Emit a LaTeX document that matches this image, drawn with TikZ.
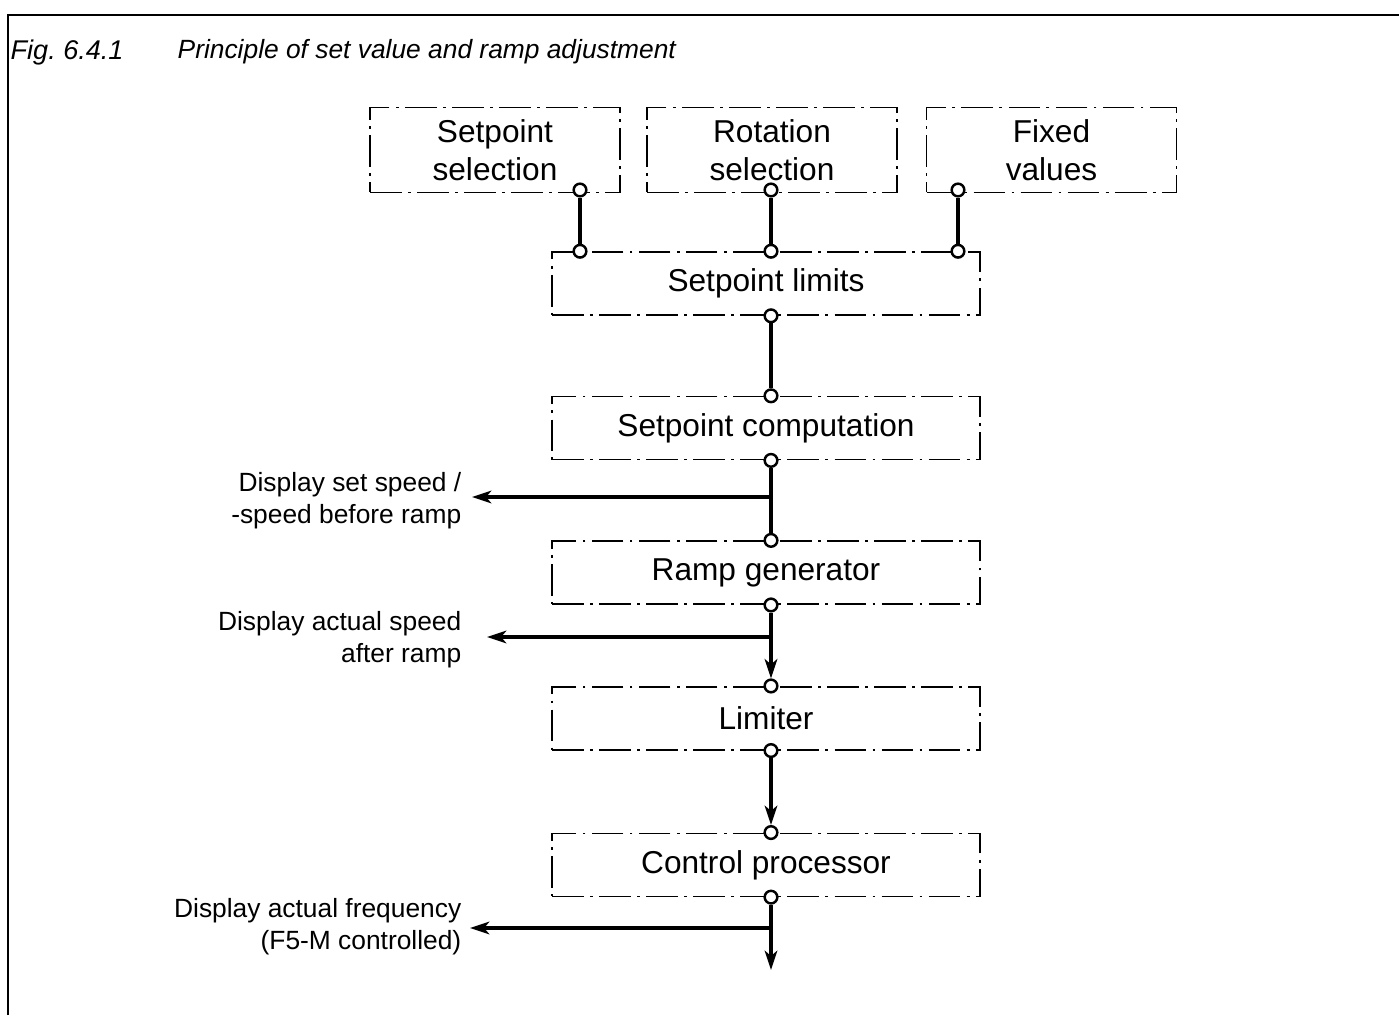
\documentclass[tikz,border=0pt]{standalone}
\usepackage{fontspec}
\setmainfont{Liberation Sans}
\usetikzlibrary{arrows.meta,positioning}

\begin{document}
\begin{tikzpicture}[
      every node/.style={align=center,font=\fontsize{9}{10.8}\selectfont},
      blk/.style={draw,line width=0.45pt,
                  dash pattern=on 9pt off 1.8pt on 0.8pt off 1.8pt,
                  minimum width=4.28cm,minimum height=0.63cm},
      srcblk/.style={blk,minimum width=2.5cm,minimum height=0.8cm},
      pin/.style={circle,draw,fill=white,line width=0.7pt,
                  inner sep=0pt,minimum size=3.6pt},
      wire/.style={line width=0.9pt},
      arr/.style={wire,-{Stealth[length=5.5pt,width=3.6pt,inset=1.5pt]}},
      lbl/.style={font=\fontsize{7.5}{9.1}\selectfont,align=right,
                  anchor=east,inner sep=0pt}
    ]
      \useasboundingbox (0,0) rectangle (13.99,-10.15);
      \draw[line width=0.8pt] (0.08,-10.15) |- (13.99,-0.15);
      \node[anchor=west,inner sep=0pt,font=\itshape\fontsize{7.7}{9}\selectfont]
        (fig) at (0.1,-0.52) {Fig.~6.4.1};
      \node[anchor=west,inner sep=0pt,font=\itshape\fontsize{7.5}{9}\selectfont]
        (title) at (1.77,-0.52) {Principle of set value and ramp adjustment};
      % signal sources
      \node[srcblk] (sel) at (4.95,-1.5) {Setpoint\\selection};
      \node[srcblk] (rot) at (7.72,-1.5) {Rotation\\selection};
      \node[srcblk] (fix) at (10.515,-1.5) {Fixed\\values};
      % main chain
      \node[blk] (lim) at (7.66,-2.835) {Setpoint limits};
      \node[blk,below=0.8 of lim] (comp) {Setpoint computation};
      \node[blk,below=0.8 of comp] (ramp) {Ramp generator};
      \node[blk,below=0.81 of ramp] (clip) {Limiter};
      \node[blk,below=0.82 of clip] (ctrl) {Control processor};
      % terminals
      \node[pin] (s1) at (5.80,-1.9) {};
      \node[pin] (s2) at (7.71,-1.9) {};
      \node[pin] (s3) at (9.58,-1.9) {};
      \node[pin] (t1) at (lim.north -| s1) {};
      \node[pin] (t2) at (lim.north -| s2) {};
      \node[pin] (t3) at (lim.north -| s3) {};
      \node[pin] (l0) at (lim.south -| s2) {};
      \node[pin] (c0) at (comp.north -| s2) {};
      \node[pin] (c1) at (comp.south -| s2) {};
      \node[pin] (r0) at (ramp.north -| s2) {};
      \node[pin] (r1) at (ramp.south -| s2) {};
      \node[pin] (m0) at (clip.north -| s2) {};
      \node[pin] (m1) at (clip.south -| s2) {};
      \node[pin] (k0) at (ctrl.north -| s2) {};
      \node[pin] (k1) at (ctrl.south -| s2) {};
      \coordinate (out) at (7.71,-9.70);
      % display outputs
      \node[lbl] (d1) at (4.62,-5.01) {Display set speed /\\-speed before ramp};
      \node[lbl] (d2) at (4.62,-6.40) {Display actual speed\\after ramp};
      \node[lbl] (d3) at (4.62,-9.27) {Display actual frequency\\(F5-M controlled)};
      \coordinate (j1) at (7.71,-4.97);
      \coordinate (j2) at (7.71,-6.37);
      \coordinate (j3) at (7.71,-9.28);
      \coordinate (e1) at (4.72,-4.97);
      \coordinate (e2) at (4.87,-6.37);
      \coordinate (e3) at (4.70,-9.28);
      \foreach \a/\b in {s1/t1,s2/t2,s3/t3,l0/c0,c1/r0}
        \draw[wire] (\a) -- (\b);
      \foreach \a/\b in {r1/m0,m1/k0,k1/out,j1/e1,j2/e2,j3/e3}
        \draw[arr] (\a) -- (\b);
    \end{tikzpicture}
\end{document}
